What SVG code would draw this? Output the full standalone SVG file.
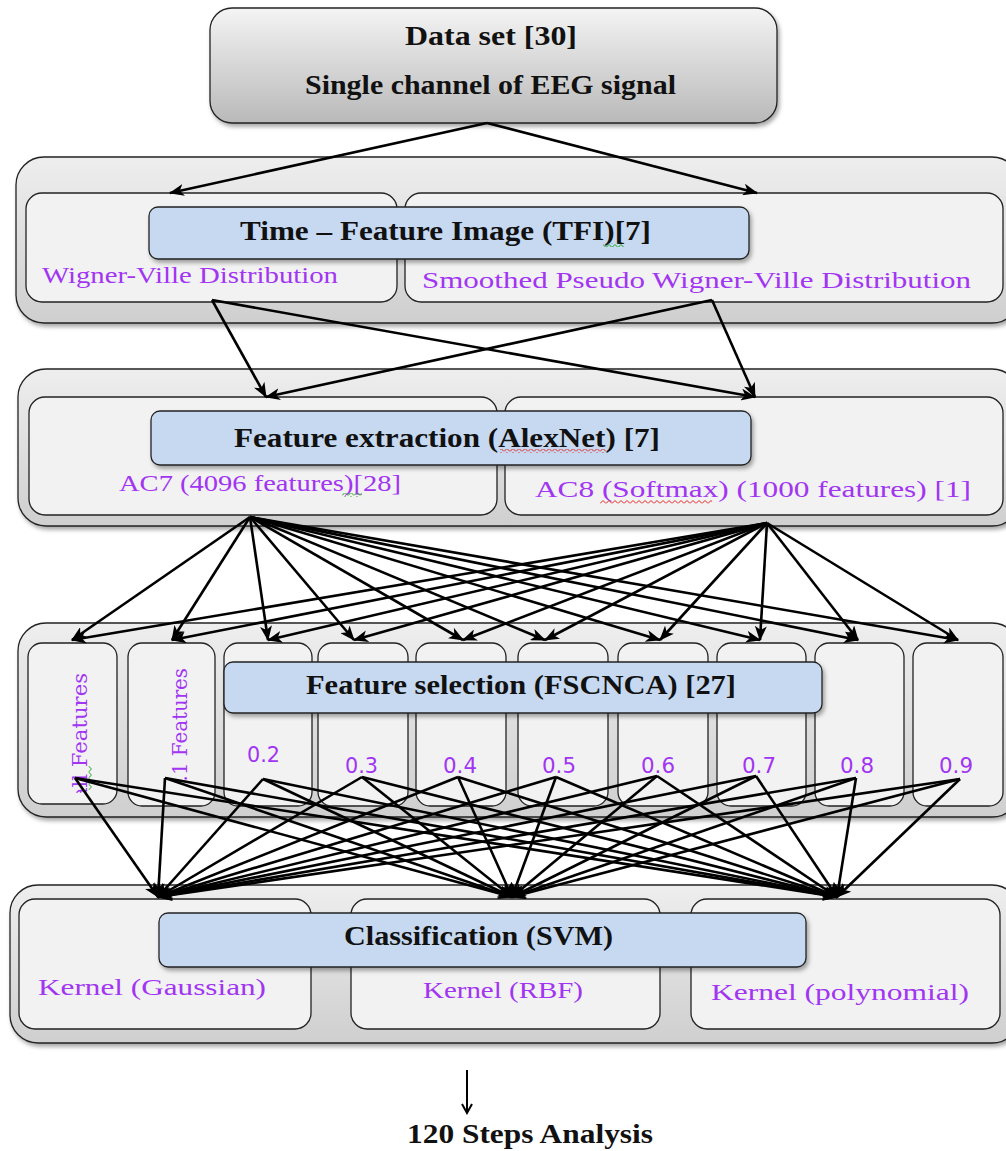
<svg xmlns="http://www.w3.org/2000/svg" width="1006" height="1151" viewBox="0 0 1006 1151">
<defs>
<linearGradient id="gTop" x1="0" y1="0" x2="0" y2="1"><stop offset="0" stop-color="#f4f4f4"/><stop offset="1" stop-color="#b9b9b9"/></linearGradient>
<linearGradient id="gSec" x1="0" y1="0" x2="0" y2="1"><stop offset="0" stop-color="#eeeeee"/><stop offset="1" stop-color="#cfcfcf"/></linearGradient>
<filter id="sh" x="-5%" y="-5%" width="110%" height="120%"><feDropShadow dx="2" dy="3" stdDeviation="2" flood-color="#000" flood-opacity="0.35"/></filter>
<marker id="ah" markerWidth="15" markerHeight="12" refX="14" refY="6" orient="auto" markerUnits="userSpaceOnUse"><path d="M0,0 L15,6 L0,12 L4,6 z" fill="#000"/></marker>
<marker id="ah2" markerWidth="12" markerHeight="12" refX="10" refY="6" orient="auto" markerUnits="userSpaceOnUse"><path d="M1,1 L10,6 L1,11" fill="none" stroke="#000" stroke-width="2"/></marker>
<pattern id="zzr" width="6" height="4" patternUnits="userSpaceOnUse"><path d="M0,3.5 L3,0.5 L6,3.5" fill="none" stroke="#e02020" stroke-width="1"/></pattern>
<pattern id="zzg" width="6" height="4" patternUnits="userSpaceOnUse"><path d="M0,3.5 L3,0.5 L6,3.5" fill="none" stroke="#20a020" stroke-width="1"/></pattern>
<clipPath id="c1"><rect x="28" y="643" width="89" height="150"/></clipPath>
<clipPath id="c2"><rect x="128" y="643" width="87" height="138"/></clipPath>
</defs>
<style>
.sec{fill:url(#gSec);stroke:#222;stroke-width:1.3;filter:url(#sh)}
.in{fill:#f2f2f2;stroke:#222;stroke-width:1.3}
.blue{fill:#c6d9f1;stroke:#222;stroke-width:1.3;filter:url(#sh)}
.b{font-family:"Liberation Serif",serif;font-weight:bold;font-size:28px;fill:#111}
.p{font-family:"Liberation Serif",serif;font-size:24px;fill:#a135f2}
.n{font-family:"DejaVu Sans",sans-serif;font-size:21px;fill:#a135f2}
.r{font-family:"DejaVu Serif",serif;font-size:21px;fill:#a135f2}
.c line{stroke:#000;stroke-width:2.6;fill:none;marker-end:url(#ah)}
</style>

<g id="dataset">
<rect x="210" y="8" width="567" height="115" rx="22" fill="url(#gTop)" stroke="#222" stroke-width="1.3" filter="url(#sh)"/>
<text class="b" x="405" y="45" textLength="172" lengthAdjust="spacingAndGlyphs">Data set [30]</text>
<text class="b" x="305" y="94" textLength="371" lengthAdjust="spacingAndGlyphs">Single channel of EEG signal</text>
</g>

<g id="tfi-section">
<rect class="sec" x="16" y="157" width="1004" height="166" rx="28"/>
<g id="wvd"><rect class="in" x="26" y="193" width="371" height="109" rx="16"/>
<text class="p" x="42" y="283" textLength="296" lengthAdjust="spacingAndGlyphs">Wigner-Ville Distribution</text></g>
<g id="spwvd"><rect class="in" x="405" y="193" width="598" height="109" rx="16"/>
<text class="p" x="422" y="288" textLength="549" lengthAdjust="spacingAndGlyphs">Smoothed Pseudo Wigner-Ville Distribution</text></g>
<g id="tfi"><rect class="blue" x="149" y="207" width="600" height="52" rx="9"/>
<text class="b" x="240" y="240" textLength="411" lengthAdjust="spacingAndGlyphs">Time – Feature Image (TFI)[7]</text>
<rect x="603" y="243" width="21" height="4" fill="url(#zzg)"/></g>
</g>

<g id="alexnet-section">
<rect class="sec" x="18" y="369" width="1002" height="157" rx="28"/>
<g id="ac7"><rect class="in" x="29" y="397" width="468" height="118" rx="16"/>
<text class="p" x="119" y="491" textLength="282" lengthAdjust="spacingAndGlyphs">AC7 (4096 features)[28]</text>
<rect x="342" y="493" width="20" height="4" fill="url(#zzg)"/></g>
<g id="ac8"><rect class="in" x="505" y="397" width="498" height="118" rx="16"/>
<text class="p" x="535" y="497" textLength="436" lengthAdjust="spacingAndGlyphs">AC8 (Softmax) (1000 features) [1]</text>
<rect x="600" y="500" width="112" height="4" fill="url(#zzr)"/></g>
<g id="alexnet"><rect class="blue" x="151" y="411" width="600" height="54" rx="9"/>
<text class="b" x="234" y="447" textLength="426" lengthAdjust="spacingAndGlyphs">Feature extraction (AlexNet) [7]</text>
<rect x="500" y="449" width="106" height="4" fill="url(#zzr)"/></g>
</g>

<g id="fscnca-section">
<rect class="sec" x="18" y="623" width="1002" height="194" rx="28"/>
<g id="all"><rect class="in" x="28" y="643" width="89" height="161" rx="14"/>
<g clip-path="url(#c1)"><text class="r" transform="translate(87,673) rotate(-90)" text-anchor="end" textLength="127" lengthAdjust="spacingAndGlyphs">all Features</text></g>
<rect x="0" y="0" width="24" height="4" fill="url(#zzg)" transform="translate(92,766) rotate(90)"/></g>
<g id="f01"><rect class="in" x="128" y="643" width="87" height="163" rx="14"/>
<g clip-path="url(#c2)"><text class="r" transform="translate(187,668) rotate(-90)" text-anchor="end" textLength="126" lengthAdjust="spacingAndGlyphs">0.1 Features</text></g></g>
<g id="f02"><rect class="in" x="224" y="643" width="88" height="163" rx="14"/><text class="n" x="247" y="762" textLength="33" lengthAdjust="spacingAndGlyphs">0.2</text></g>
<g id="f03"><rect class="in" x="318" y="643" width="90" height="163" rx="14"/><text class="n" x="345" y="773" textLength="33" lengthAdjust="spacingAndGlyphs">0.3</text></g>
<g id="f04"><rect class="in" x="416" y="643" width="90" height="163" rx="14"/><text class="n" x="443" y="773" textLength="34" lengthAdjust="spacingAndGlyphs">0.4</text></g>
<g id="f05"><rect class="in" x="518" y="643" width="90" height="163" rx="14"/><text class="n" x="542" y="773" textLength="34" lengthAdjust="spacingAndGlyphs">0.5</text></g>
<g id="f06"><rect class="in" x="618" y="643" width="90" height="163" rx="14"/><text class="n" x="641" y="773" textLength="34" lengthAdjust="spacingAndGlyphs">0.6</text></g>
<g id="f07"><rect class="in" x="717" y="643" width="89" height="163" rx="14"/><text class="n" x="742" y="773" textLength="34" lengthAdjust="spacingAndGlyphs">0.7</text></g>
<g id="f08"><rect class="in" x="815" y="643" width="89" height="163" rx="14"/><text class="n" x="840" y="773" textLength="34" lengthAdjust="spacingAndGlyphs">0.8</text></g>
<g id="f09"><rect class="in" x="913" y="643" width="90" height="163" rx="14"/><text class="n" x="939" y="773" textLength="34" lengthAdjust="spacingAndGlyphs">0.9</text></g>
<g id="fscnca"><rect class="blue" x="224" y="662" width="598" height="51" rx="9"/>
<text class="b" x="306" y="694" textLength="430" lengthAdjust="spacingAndGlyphs">Feature selection (FSCNCA) [27]</text></g>
</g>

<g id="svm-section">
<rect class="sec" x="10" y="885" width="1010" height="158" rx="28"/>
<g id="gauss"><rect class="in" x="19" y="899" width="292" height="130" rx="16"/>
<text class="p" x="38" y="995" textLength="228" lengthAdjust="spacingAndGlyphs">Kernel (Gaussian)</text></g>
<g id="rbf"><rect class="in" x="351" y="899" width="309" height="130" rx="16"/>
<text class="p" x="423" y="998" textLength="160" lengthAdjust="spacingAndGlyphs">Kernel (RBF)</text></g>
<g id="poly"><rect class="in" x="691" y="899" width="309" height="130" rx="16"/>
<text class="p" x="711" y="1000" textLength="258" lengthAdjust="spacingAndGlyphs">Kernel (polynomial)</text></g>
<g id="svm"><rect class="blue" x="159" y="913" width="647" height="54" rx="9"/>
<text class="b" x="344" y="945" textLength="269" lengthAdjust="spacingAndGlyphs">Classification (SVM)</text></g>
</g>

<g id="result">
<text class="b" x="407" y="1143" textLength="246" lengthAdjust="spacingAndGlyphs">120 Steps Analysis</text>
</g>

<g id="connectors" class="c">
<line x1="487" y1="123" x2="170" y2="193"/>
<line x1="487" y1="123" x2="757" y2="193"/>
<line x1="212" y1="300" x2="266" y2="397"/>
<line x1="212" y1="300" x2="755" y2="397"/>
<line x1="712" y1="300" x2="266" y2="397"/>
<line x1="712" y1="300" x2="755" y2="397"/>
<line x1="250" y1="517" x2="72" y2="640"/>
<line x1="250" y1="517" x2="172" y2="640"/>
<line x1="250" y1="517" x2="268" y2="640"/>
<line x1="250" y1="517" x2="354" y2="640"/>
<line x1="250" y1="517" x2="463" y2="640"/>
<line x1="250" y1="517" x2="545" y2="640"/>
<line x1="250" y1="517" x2="660" y2="640"/>
<line x1="250" y1="517" x2="760" y2="640"/>
<line x1="250" y1="517" x2="858" y2="640"/>
<line x1="250" y1="517" x2="958" y2="640"/>
<line x1="767" y1="523" x2="72" y2="640"/>
<line x1="767" y1="523" x2="172" y2="640"/>
<line x1="767" y1="523" x2="268" y2="640"/>
<line x1="767" y1="523" x2="354" y2="640"/>
<line x1="767" y1="523" x2="463" y2="640"/>
<line x1="767" y1="523" x2="545" y2="640"/>
<line x1="767" y1="523" x2="660" y2="640"/>
<line x1="767" y1="523" x2="760" y2="640"/>
<line x1="767" y1="523" x2="858" y2="640"/>
<line x1="767" y1="523" x2="958" y2="640"/>
<line x1="75" y1="778" x2="158" y2="897"/>
<line x1="75" y1="778" x2="512" y2="897"/>
<line x1="75" y1="778" x2="837" y2="897"/>
<line x1="165" y1="778" x2="158" y2="897"/>
<line x1="165" y1="778" x2="512" y2="897"/>
<line x1="165" y1="778" x2="837" y2="897"/>
<line x1="263" y1="779" x2="158" y2="897"/>
<line x1="263" y1="779" x2="512" y2="897"/>
<line x1="263" y1="779" x2="837" y2="897"/>
<line x1="362" y1="777" x2="158" y2="897"/>
<line x1="362" y1="777" x2="512" y2="897"/>
<line x1="362" y1="777" x2="837" y2="897"/>
<line x1="458" y1="777" x2="158" y2="897"/>
<line x1="458" y1="777" x2="512" y2="897"/>
<line x1="458" y1="777" x2="837" y2="897"/>
<line x1="556" y1="777" x2="158" y2="897"/>
<line x1="556" y1="777" x2="512" y2="897"/>
<line x1="556" y1="777" x2="837" y2="897"/>
<line x1="657" y1="776" x2="158" y2="897"/>
<line x1="657" y1="776" x2="512" y2="897"/>
<line x1="657" y1="776" x2="837" y2="897"/>
<line x1="756" y1="776" x2="158" y2="897"/>
<line x1="756" y1="776" x2="512" y2="897"/>
<line x1="756" y1="776" x2="837" y2="897"/>
<line x1="856" y1="778" x2="158" y2="897"/>
<line x1="856" y1="778" x2="512" y2="897"/>
<line x1="856" y1="778" x2="837" y2="897"/>
<line x1="960" y1="779" x2="158" y2="897"/>
<line x1="960" y1="779" x2="512" y2="897"/>
<line x1="960" y1="779" x2="837" y2="897"/>
<line x1="467" y1="1070" x2="467" y2="1113" style="stroke-width:2;marker-end:url(#ah2)"/>
</g>
</svg>
